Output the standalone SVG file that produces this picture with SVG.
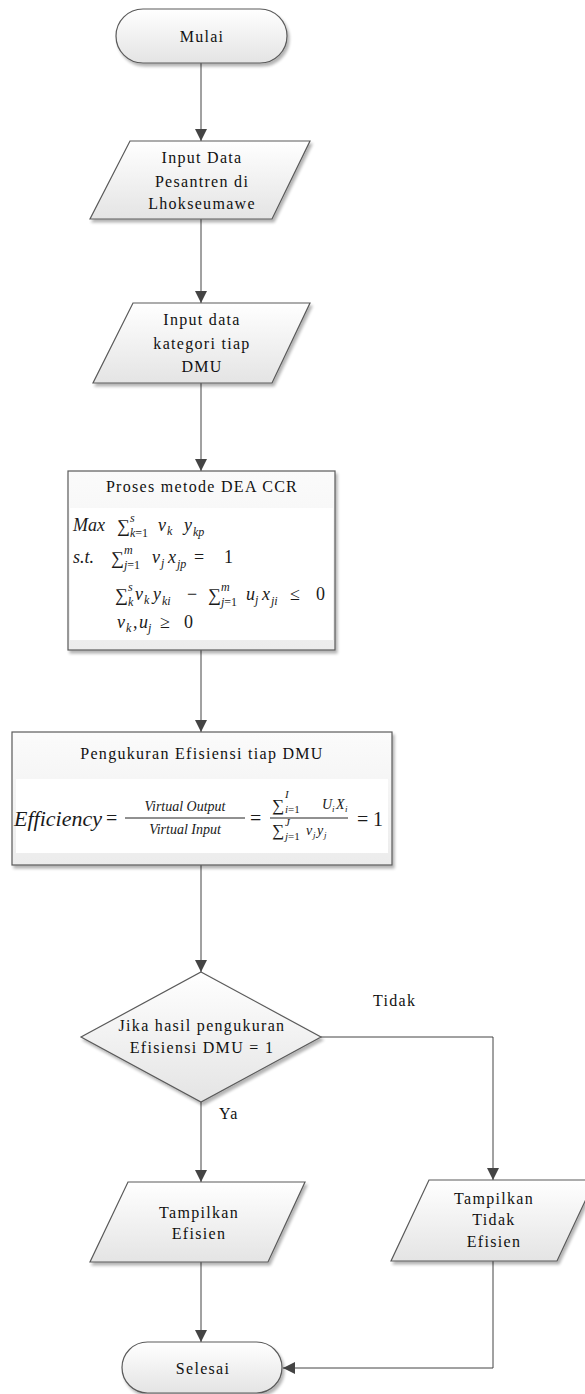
<svg xmlns="http://www.w3.org/2000/svg" width="585" height="1394" viewBox="0 0 585 1394">
  <defs>
    <linearGradient id="shade" x1="0" y1="0" x2="0" y2="1">
      <stop offset="0" stop-color="#ffffff"/>
      <stop offset="1" stop-color="#e4e4e4"/>
    </linearGradient>
    <linearGradient id="boxshade" x1="0" y1="0" x2="0" y2="1">
      <stop offset="0" stop-color="#fbfbfb"/>
      <stop offset="1" stop-color="#ececec"/>
    </linearGradient>
    <filter id="shadow" x="-10%" y="-10%" width="130%" height="130%">
      <feGaussianBlur in="SourceAlpha" stdDeviation="1.5"/>
      <feOffset dx="2" dy="3" result="b"/>
      <feComponentTransfer><feFuncA type="linear" slope="0.3"/></feComponentTransfer>
      <feMerge><feMergeNode/><feMergeNode in="SourceGraphic"/></feMerge>
    </filter>
    <marker id="arrow" viewBox="0 0 10 10" refX="10" refY="5" markerWidth="12" markerHeight="12" markerUnits="userSpaceOnUse" orient="auto">
      <path d="M0,0 L10,5 L0,10 z" fill="#444"/>
    </marker>
  </defs>
  <style>
    .shape { fill: url(#shade); stroke: #5a5a5a; stroke-width: 1.2; filter: url(#shadow); }
    .box { fill: url(#boxshade); stroke: #5a5a5a; stroke-width: 1.2; filter: url(#shadow); }
    .pane { fill: #ffffff; }
    .t { font-family: "Liberation Serif", "Times New Roman", serif; font-size: 16px; letter-spacing: 1.3px; fill: #111; text-anchor: middle; }
    .lbl { font-family: "Liberation Serif", "Times New Roman", serif; font-size: 16px; letter-spacing: 1.3px; fill: #111; }
    .m { font-family: "Liberation Serif", "Times New Roman", serif; font-size: 18px; fill: #1a1a1a; }
    .i { font-style: italic; }
    .s { font-size: 12px; }
    .f { font-family: "Liberation Serif", "Times New Roman", serif; fill: #1a1a1a; }
    .conn path { fill: none; stroke: #444; stroke-width: 1; marker-end: url(#arrow); }
  </style>

  <rect width="585" height="1394" fill="#ffffff"/>

  <!-- connectors -->
  <g id="connectors" class="conn">
    <path d="M201,63 V141"/>
    <path d="M201,219 V303"/>
    <path d="M201,383 V471"/>
    <path d="M201,650 V732"/>
    <path d="M201,865 V972"/>
    <path d="M201,1102 V1182"/>
    <path d="M321,1037 H493 V1180"/>
    <path d="M201,1262 V1342"/>
    <path d="M493,1261 V1368 H283"/>
  </g>

  <!-- start -->
  <g id="mulai">
    <rect class="shape" x="116" y="9" width="171" height="54" rx="27" ry="27"/>
    <text class="t" x="202" y="42">Mulai</text>
  </g>

  <!-- input pesantren data -->
  <g id="input-pesantren">
    <polygon class="shape" points="130,141 310,141 272,219 90,219"/>
    <text class="t" x="202" y="163">Input Data</text>
    <text class="t" x="202" y="187">Pesantren di</text>
    <text class="t" x="202" y="209">Lhokseumawe</text>
  </g>

  <!-- input DMU categories -->
  <g id="input-kategori">
    <polygon class="shape" points="133,303 310,303 272,383 93,383"/>
    <text class="t" x="202" y="325">Input data</text>
    <text class="t" x="202" y="349">kategori tiap</text>
    <text class="t" x="202" y="372">DMU</text>
  </g>

  <!-- DEA CCR model -->
  <g id="proses-dea">
    <rect class="box" x="68" y="471" width="267" height="179"/>
    <rect class="pane" x="70" y="508" width="263" height="132"/>
    <text class="t" x="202" y="492">Proses metode DEA CCR</text>
    <text class="m">
      <tspan class="i" x="73" y="531">Max</tspan>
      <tspan x="117" y="532">∑</tspan>
      <tspan class="s i" x="130" y="522">s</tspan>
      <tspan class="s" x="130" y="537"><tspan class="i">k</tspan>=1</tspan>
      <tspan class="i" x="158" y="531">v</tspan>
      <tspan class="s i" x="167" y="535">k</tspan>
      <tspan class="i" x="184" y="531">y</tspan>
      <tspan class="s i" x="193" y="536">kp</tspan>
    </text>
    <text class="m">
      <tspan class="i" x="73" y="563">s.t.</tspan>
      <tspan x="111" y="564">∑</tspan>
      <tspan class="s i" x="124" y="554">m</tspan>
      <tspan class="s" x="124" y="569"><tspan class="i">j</tspan>=1</tspan>
      <tspan class="i" x="152" y="563">v</tspan>
      <tspan class="s i" x="161" y="567">j</tspan>
      <tspan class="i" x="168" y="563">x</tspan>
      <tspan class="s i" x="177" y="568">jp</tspan>
      <tspan x="194" y="563">=</tspan>
      <tspan x="224" y="563">1</tspan>
    </text>
    <text class="m">
      <tspan x="115" y="601">∑</tspan>
      <tspan class="s i" x="128" y="591">s</tspan>
      <tspan class="s i" x="128" y="606">k</tspan>
      <tspan class="i" x="135" y="600">v</tspan>
      <tspan class="s i" x="144" y="604">k</tspan>
      <tspan class="i" x="153" y="600">y</tspan>
      <tspan class="s i" x="162" y="605">ki</tspan>
      <tspan x="187" y="600">−</tspan>
      <tspan x="208" y="601">∑</tspan>
      <tspan class="s i" x="221" y="591">m</tspan>
      <tspan class="s" x="221" y="606"><tspan class="i">j</tspan>=1</tspan>
      <tspan class="i" x="246" y="600">u</tspan>
      <tspan class="s i" x="255" y="604">j</tspan>
      <tspan class="i" x="262" y="600">x</tspan>
      <tspan class="s i" x="271" y="605">ji</tspan>
      <tspan x="290" y="600">≤</tspan>
      <tspan x="316" y="600">0</tspan>
    </text>
    <text class="m">
      <tspan class="i" x="117" y="628">v</tspan>
      <tspan class="s i" x="126" y="632">k</tspan>
      <tspan x="133" y="628">,</tspan>
      <tspan class="i" x="139" y="628">u</tspan>
      <tspan class="s i" x="148" y="632">j</tspan>
      <tspan x="160" y="628">≥</tspan>
      <tspan x="184" y="628">0</tspan>
    </text>
  </g>

  <!-- efficiency measure -->
  <g id="pengukuran">
    <rect class="box" x="12" y="732" width="380" height="133"/>
    <rect class="pane" x="16" y="779" width="372" height="74"/>
    <text class="t" x="202" y="759">Pengukuran Efisiensi tiap DMU</text>
    <text class="f i" x="14" y="826" font-size="22">Efficiency</text>
    <text class="f" x="106" y="825" font-size="20">=</text>
    <text class="f i" x="185" y="811" font-size="14" text-anchor="middle">Virtual Output</text>
    <line x1="125" y1="818" x2="245" y2="818" stroke="#222" stroke-width="1"/>
    <text class="f i" x="185" y="834" font-size="14" text-anchor="middle">Virtual Input</text>
    <text class="f" x="250" y="825" font-size="20">=</text>
    <text class="f" font-size="17">
      <tspan x="272" y="811">∑</tspan>
      <tspan class="i" x="285" y="798" font-size="11">I</tspan>
      <tspan x="285" y="813" font-size="11"><tspan class="i">i</tspan>=1</tspan>
      <tspan class="i" x="322" y="809" font-size="14">U</tspan>
      <tspan class="i" x="332" y="812" font-size="9">i</tspan>
      <tspan class="i" x="336" y="809" font-size="14">X</tspan>
      <tspan class="i" x="345" y="812" font-size="9">i</tspan>
    </text>
    <line x1="270" y1="818" x2="348" y2="818" stroke="#222" stroke-width="1"/>
    <text class="f" font-size="17">
      <tspan x="272" y="836">∑</tspan>
      <tspan class="i" x="285" y="826" font-size="11">J</tspan>
      <tspan x="285" y="840" font-size="11"><tspan class="i">j</tspan>=1</tspan>
      <tspan class="i" x="306" y="835" font-size="14">v</tspan>
      <tspan class="i" x="313" y="838" font-size="9">j</tspan>
      <tspan class="i" x="317" y="835" font-size="14">y</tspan>
      <tspan class="i" x="324" y="838" font-size="9">j</tspan>
    </text>
    <text class="f" x="357" y="826" font-size="20">=</text>
    <text class="f" x="373" y="826" font-size="20">1</text>
  </g>

  <!-- decision -->
  <g id="keputusan">
    <polygon class="shape" points="201,972 321,1037 201,1102 81,1037"/>
    <text class="t" x="202" y="1031">Jika hasil pengukuran</text>
    <text class="t" x="202" y="1053">Efisiensi DMU = 1</text>
  </g>

  <!-- branch labels -->
  <g id="label-tidak">
    <text class="lbl" x="373" y="1006">Tidak</text>
  </g>
  <g id="label-ya">
    <text class="lbl" x="219" y="1119">Ya</text>
  </g>

  <!-- efficient output -->
  <g id="tampil-efisien">
    <polygon class="shape" points="128,1182 305,1182 268,1262 90,1262"/>
    <text class="t" x="199" y="1218">Tampilkan</text>
    <text class="t" x="199" y="1239">Efisien</text>
  </g>

  <!-- not efficient output -->
  <g id="tampil-tidak-efisien">
    <polygon class="shape" points="429,1180 595,1180 557,1261 391,1261"/>
    <text class="t" x="494" y="1204">Tampilkan</text>
    <text class="t" x="494" y="1225">Tidak</text>
    <text class="t" x="494" y="1247">Efisien</text>
  </g>

  <!-- end -->
  <g id="selesai">
    <rect class="shape" x="122" y="1342" width="160" height="51" rx="25.5" ry="25.5"/>
    <text class="t" x="203" y="1374">Selesai</text>
  </g>
</svg>
